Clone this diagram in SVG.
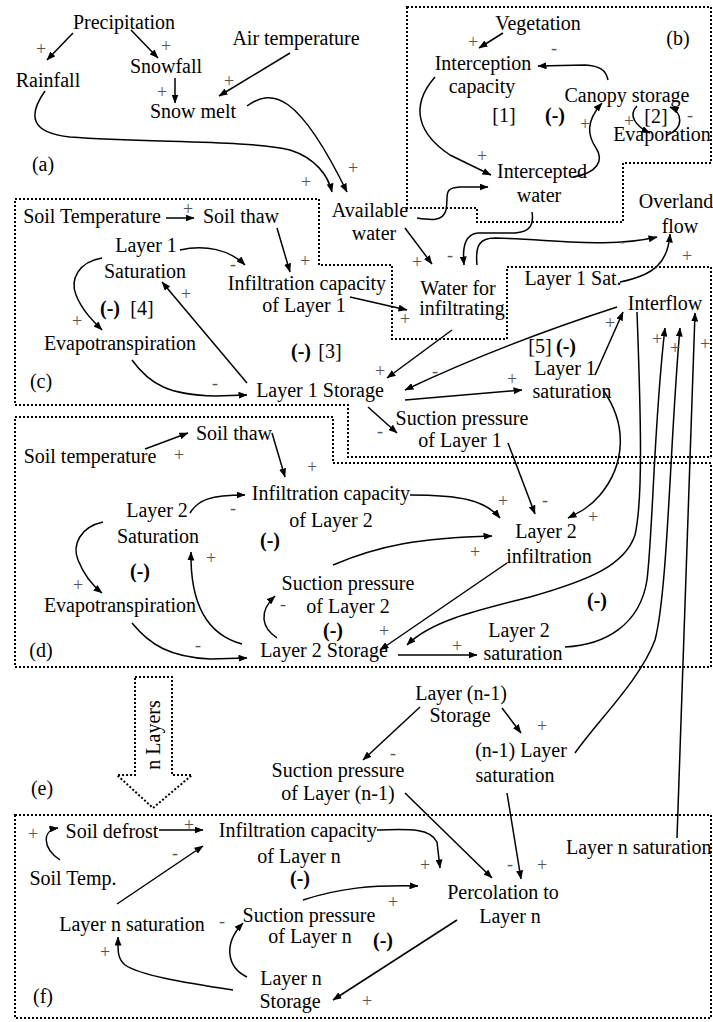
<svg xmlns="http://www.w3.org/2000/svg" width="713" height="1022" viewBox="0 0 713 1022">
<defs>
<marker id="ah" markerWidth="9" markerHeight="7" refX="8.5" refY="3.5" orient="auto" markerUnits="userSpaceOnUse"><path d="M0,0 L9,3.5 L0,7 z" fill="#000"/></marker>
<style>
text{font-family:"Liberation Serif","Times New Roman",serif;}
.t{font-size:20px;text-anchor:middle;fill:#000}
.b{font-size:20px;font-weight:bold;text-anchor:middle;fill:#000}
.s{font-size:18px;text-anchor:middle;fill:#555}
.c path{fill:none;stroke:#000;stroke-width:1.5;marker-end:url(#ah)}
.box{fill:none;stroke:#000;stroke-width:2;stroke-dasharray:2 2}
</style>
</defs>
<rect width="713" height="1022" fill="#fff"/>
<g id="boxes">
<path class="box" d="M407,7 L711,7 L711,163 L623,163 L623,222 L477,222 L477,208 L407,208 Z"/>
<path class="box" d="M15,199 L319,199 L319,265 L392,265 L392,339 L507,339 L507,267 L711,267 L711,457 L348,457 L348,405 L15,405 Z"/>
<path class="box" d="M15,417 L333,417 L333,463 L711,463 L711,667 L15,667 Z"/>
<path class="box" d="M15,815 L711,815 L711,1018 L15,1018 Z"/>
<path class="box" d="M135,677 L172,677 L172,775 L192,775 L153,808 L117,775 L135,775 Z"/>
<text class="t" transform="translate(160,735) rotate(-90)">n Layers</text>
</g>
<g id="labels">
<text class="t" x="43" y="171">(a)</text>
<text class="t" x="678" y="45">(b)</text>
<text class="t" x="41" y="388">(c)</text>
<text class="t" x="41" y="657">(d)</text>
<text class="t" x="42" y="795">(e)</text>
<text class="t" x="43" y="1003">(f)</text>
<text class="t" x="504" y="122">[1]</text><text class="b" x="555" y="122">(-)</text>
<text class="t" x="656" y="123">[2]</text>
<text class="b" x="301" y="358">(-)</text><text class="t" x="330" y="358">[3]</text>
<text class="b" x="110" y="315">(-)</text><text class="t" x="142" y="315">[4]</text>
<text class="t" x="540" y="353">[5]</text><text class="b" x="566" y="353">(-)</text>
<text class="b" x="140" y="578">(-)</text>
<text class="b" x="270" y="547">(-)</text>
<text class="b" x="333" y="637">(-)</text>
<text class="b" x="597" y="607">(-)</text>
<text class="b" x="300" y="885">(-)</text>
<text class="b" x="383" y="947">(-)</text>
</g>
<g id="precipitation"><text class="t" x="124" y="29">Precipitation</text></g>
<g id="rainfall"><text class="t" x="48" y="87">Rainfall</text></g>
<g id="snowfall"><text class="t" x="166" y="73">Snowfall</text></g>
<g id="snowmelt"><text class="t" x="193" y="118">Snow melt</text></g>
<g id="airtemp"><text class="t" x="296" y="45">Air temperature</text></g>
<g id="available"><text class="t" x="370" y="217">Available</text><text class="t" x="374" y="240">water</text></g>
<g id="vegetation"><text class="t" x="538" y="30">Vegetation</text></g>
<g id="interception"><text class="t" x="483" y="70">Interception</text><text class="t" x="482" y="93">capacity</text></g>
<g id="canopy"><text class="t" x="627" y="102">Canopy storage</text></g>
<g id="evaporation"><text class="t" x="662" y="141">Evaporation</text></g>
<g id="intercepted"><text class="t" x="542" y="178">Intercepted</text><text class="t" x="539" y="202">water</text></g>
<g id="overland"><text class="t" x="676" y="208">Overland</text><text class="t" x="680" y="233">flow</text></g>
<g id="soiltemp1"><text class="t" x="92" y="223">Soil Temperature</text></g>
<g id="soilthaw1"><text class="t" x="241" y="223">Soil thaw</text></g>
<g id="sat1"><text class="t" x="146" y="252">Layer 1</text><text class="t" x="145" y="278">Saturation</text></g>
<g id="infcap1"><text class="t" x="307" y="290">Infiltration capacity</text><text class="t" x="304" y="312">of Layer 1</text></g>
<g id="waterinf"><text class="t" x="458" y="295">Water for</text><text class="t" x="462" y="315">infiltrating</text></g>
<g id="evapo1"><text class="t" x="120" y="350">Evapotranspiration</text></g>
<g id="storage1"><text class="t" x="320" y="397">Layer 1 Storage</text></g>
<g id="l1sat"><text class="t" x="573" y="285">Layer 1 Sat.</text></g>
<g id="interflow"><text class="t" x="665" y="310">Interflow</text></g>
<g id="l1saturation"><text class="t" x="565" y="375">Layer 1</text><text class="t" x="572" y="398">saturation</text></g>
<g id="suction1"><text class="t" x="462" y="425">Suction pressure</text><text class="t" x="460" y="447">of Layer 1</text></g>
<g id="soilthaw2"><text class="t" x="234" y="440">Soil thaw</text></g>
<g id="soiltemp2"><text class="t" x="90" y="463">Soil temperature</text></g>
<g id="infcap2"><text class="t" x="331" y="500">Infiltration capacity</text><text class="t" x="331" y="527">of Layer 2</text></g>
<g id="sat2"><text class="t" x="157" y="517">Layer 2</text><text class="t" x="158" y="543">Saturation</text></g>
<g id="evapo2"><text class="t" x="120" y="612">Evapotranspiration</text></g>
<g id="suction2"><text class="t" x="348" y="590">Suction pressure</text><text class="t" x="348" y="613">of Layer 2</text></g>
<g id="storage2"><text class="t" x="324" y="657">Layer 2 Storage</text></g>
<g id="inf2"><text class="t" x="546" y="538">Layer 2</text><text class="t" x="549" y="563">infiltration</text></g>
<g id="l2saturation"><text class="t" x="519" y="637">Layer 2</text><text class="t" x="523" y="660">saturation</text></g>
<g id="storagen1"><text class="t" x="461" y="700">Layer (n-1)</text><text class="t" x="460" y="722">Storage</text></g>
<g id="satn1"><text class="t" x="521" y="757">(n-1) Layer</text><text class="t" x="515" y="782">saturation</text></g>
<g id="suctionn1"><text class="t" x="338" y="777">Suction pressure</text><text class="t" x="338" y="800">of Layer (n-1)</text></g>
<g id="lnsatright"><text class="t" x="566" y="854" style="text-anchor:start">Layer n saturation</text></g>
<g id="soildefrost"><text class="t" x="112" y="838">Soil defrost</text></g>
<g id="soiltempn"><text class="t" x="73" y="885">Soil Temp.</text></g>
<g id="infcapn"><text class="t" x="298" y="837">Infiltration capacity</text><text class="t" x="299" y="863">of Layer n</text></g>
<g id="lnsatleft"><text class="t" x="132" y="931">Layer n saturation</text></g>
<g id="suctionn"><text class="t" x="309" y="922">Suction pressure</text><text class="t" x="310" y="943">of Layer n</text></g>
<g id="storagen"><text class="t" x="291" y="985">Layer n</text><text class="t" x="290" y="1008">Storage</text></g>
<g id="percolation"><text class="t" x="503" y="899">Percolation to</text><text class="t" x="510" y="923">Layer n</text></g>
<g id="connectors" class="c">
<path d="M73,33 L47,60"/>
<path d="M131,30 L158,58"/>
<path d="M175,78 L175,103"/>
<path d="M290,53 L219,96"/>
<path d="M247,106 C272,88 298,92 347,192"/>
<path d="M45,91 C28,115 30,133 70,137 C150,143 250,140 290,150 C315,158 328,175 332,192"/>
<path d="M503,33 L479,48"/>
<path d="M608,80 C606,70 600,66 585,65 L538,66"/>
<path d="M637,106 C628,115 635,126 650,133"/>
<path d="M667,135 C685,128 682,112 670,107"/>
<path d="M573,177 C598,173 604,160 596,148 C588,136 585,122 602,103"/>
<path d="M435,77 C408,108 420,135 450,155 L491,175"/>
<path d="M417,218 C430,220 443,222 446,210 C449,196 442,188 460,187 L488,187"/>
<path d="M405,228 L432,264"/>
<path d="M532,212 C534,225 530,232 515,233 L478,233 C466,234 462,245 464,265"/>
<path d="M477,265 C475,245 480,238 495,238 C560,240 610,248 657,237"/>
<path d="M620,282 C655,275 668,262 670,234"/>
<path d="M166,218 L194,218"/>
<path d="M277,228 L290,272"/>
<path d="M180,250 C205,244 230,250 245,265"/>
<path d="M350,297 L407,310"/>
<path d="M452,330 L387,378"/>
<path d="M132,360 C150,385 170,395 215,396 L247,395"/>
<path d="M247,383 L162,282"/>
<path d="M102,258 C78,262 70,280 76,295 C82,310 92,320 102,330"/>
<path d="M617,307 Q500,345 405,390"/>
<path d="M405,400 L522,390"/>
<path d="M595,375 L623,312"/>
<path d="M368,407 L397,433"/>
<path d="M603,390 C628,425 625,465 600,495 C590,507 580,512 568,518"/>
<path d="M508,443 L535,514"/>
<path d="M637,312 C641,420 643,500 635,535 C625,565 590,580 530,597 C470,612 430,622 407,645"/>
<path d="M565,647 C605,645 640,625 647,580 C653,530 654,420 665,328"/>
<path d="M575,753 C600,718 640,680 655,640 C668,590 670,440 680,328"/>
<path d="M677,838 L695,313"/>
<path d="M145,449 L188,433"/>
<path d="M272,433 L285,477"/>
<path d="M190,513 C198,500 210,495 245,495"/>
<path d="M410,495 C460,495 485,500 500,518"/>
<path d="M333,565 C380,545 420,538 492,536"/>
<path d="M103,522 C80,527 72,545 78,560 C84,575 92,585 102,593"/>
<path d="M132,623 C150,645 170,657 210,659 L247,658"/>
<path d="M242,644 C212,636 190,610 191,552"/>
<path d="M277,638 C262,628 258,612 275,596"/>
<path d="M507,563 L380,650"/>
<path d="M398,655 L477,655"/>
<path d="M502,708 L521,733"/>
<path d="M420,707 L363,760"/>
<path d="M405,793 L492,878"/>
<path d="M507,793 L521,879"/>
<path d="M159,830 L203,830"/>
<path d="M60,860 C42,848 42,830 58,828"/>
<path d="M117,904 L203,846"/>
<path d="M233,990 C180,982 140,975 125,965 C117,958 118,950 118,937"/>
<path d="M377,830 C410,829 430,828 437,842 L440,868"/>
<path d="M303,900 C340,888 370,885 418,886"/>
<path d="M247,977 C228,968 222,945 243,923"/>
<path d="M457,920 L333,1000"/>
</g>
<g id="signs">
<text class="s" x="41" y="55">+</text>
<text class="s" x="166" y="52">+</text>
<text class="s" x="162" y="98">+</text>
<text class="s" x="229" y="87">+</text>
<text class="s" x="353" y="174">+</text>
<text class="s" x="306" y="188">+</text>
<text class="s" x="473" y="48">+</text>
<text class="s" x="554" y="54">-</text>
<text class="s" x="629" y="127">+</text>
<text class="s" x="690" y="121">-</text>
<text class="s" x="585" y="130">+</text>
<text class="s" x="482" y="162">+</text>
<text class="s" x="417" y="268">+</text>
<text class="s" x="450" y="261">-</text>
<text class="s" x="622" y="247">-</text>
<text class="s" x="687" y="262">+</text>
<text class="s" x="188" y="215">+</text>
<text class="s" x="305" y="267">+</text>
<text class="s" x="233" y="270">-</text>
<text class="s" x="405" y="325">+</text>
<text class="s" x="380" y="377">+</text>
<text class="s" x="215" y="389">-</text>
<text class="s" x="186" y="300">+</text>
<text class="s" x="77" y="327">+</text>
<text class="s" x="435" y="377">-</text>
<text class="s" x="512" y="385">+</text>
<text class="s" x="610" y="329">+</text>
<text class="s" x="380" y="437">-</text>
<text class="s" x="657" y="345">+</text>
<text class="s" x="675" y="354">+</text>
<text class="s" x="705" y="350">+</text>
<text class="s" x="179" y="461">+</text>
<text class="s" x="312" y="473">+</text>
<text class="s" x="233" y="514">-</text>
<text class="s" x="503" y="507">+</text>
<text class="s" x="545" y="506">-</text>
<text class="s" x="593" y="523">+</text>
<text class="s" x="475" y="558">+</text>
<text class="s" x="78" y="591">+</text>
<text class="s" x="198" y="651">-</text>
<text class="s" x="211" y="564">+</text>
<text class="s" x="283" y="610">-</text>
<text class="s" x="384" y="637">+</text>
<text class="s" x="457" y="652">+</text>
<text class="s" x="542" y="732">+</text>
<text class="s" x="393" y="759">-</text>
<text class="s" x="510" y="870">-</text>
<text class="s" x="542" y="871">+</text>
<text class="s" x="189" y="831">+</text>
<text class="s" x="33" y="840">+</text>
<text class="s" x="175" y="859">-</text>
<text class="s" x="222" y="927">-</text>
<text class="s" x="105" y="958">+</text>
<text class="s" x="425" y="871">+</text>
<text class="s" x="393" y="908">+</text>
<text class="s" x="367" y="1007">+</text>
</g>
</svg>
